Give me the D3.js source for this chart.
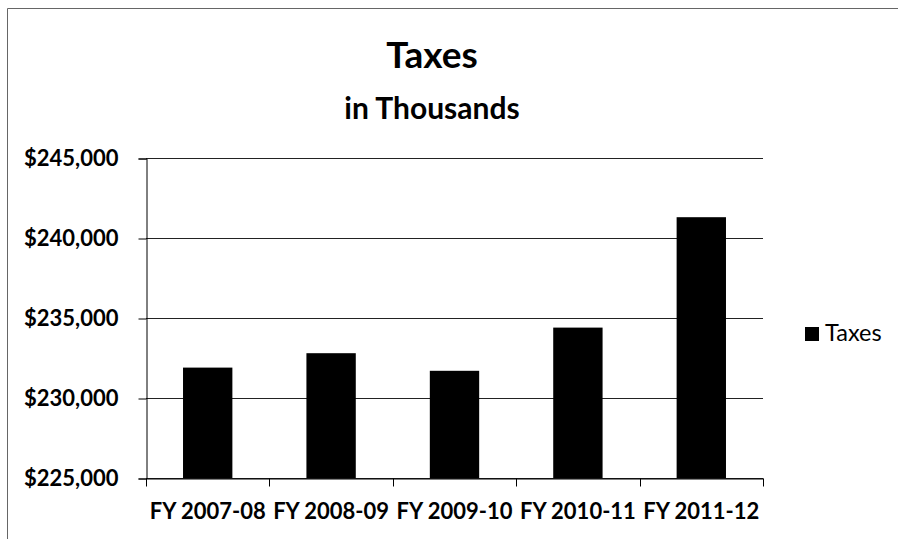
<!DOCTYPE html>
<html>
<head>
<meta charset="utf-8">
<script src="https://cdn.jsdelivr.net/npm/d3@7"></script>
<style>
  body { margin: 0; background: #fff; }
  svg { display: block; }
</style>
</head>
<body>
<div id="chart"></div>
<script>
// Data
const years = ["FY 2007-08", "FY 2008-09", "FY 2009-10", "FY 2010-11", "FY 2011-12"];
const taxes = [231900, 232800, 231700, 234400, 241300];
const yTicks = [225000, 230000, 235000, 240000, 245000];

const W = 898, H = 539;
const margin = { top: 158, right: 135, bottom: 61, left: 146 };
const font = "Lato, 'Open Sans', sans-serif";

const svg = d3.select("#chart").append("svg")
    .attr("width", W)
    .attr("height", H);

// chart frame (left + top visible)
svg.append("path")
    .attr("d", `M7.5,${H} L7.5,8.5 L${W},8.5`)
    .attr("fill", "none")
    .attr("stroke", "#666")
    .attr("stroke-width", 1);

// Scales
const x = d3.scaleBand()
    .domain(years)
    .range([margin.left, W - margin.right])
    .paddingInner(0.6)
    .paddingOuter(0.3);

const y = d3.scaleLinear()
    .domain([225000, 245000])
    .range([H - margin.bottom, margin.top]);

// Gridlines
svg.append("g")
    .selectAll("line")
    .data(yTicks)
    .enter()
    .append("line")
    .attr("x1", margin.left)
    .attr("x2", W - margin.right)
    .attr("y1", d => Math.round(y(d)) + 0.5)
    .attr("y2", d => Math.round(y(d)) + 0.5)
    .attr("stroke", "#222")
    .attr("stroke-width", 1);

// Y axis
const yAxis = svg.append("g")
    .attr("transform", `translate(${margin.left + 0.5},0.5)`)
    .call(d3.axisLeft(y).tickValues(yTicks).tickSize(8).tickPadding(20)
        .tickFormat(d => "$" + d3.format(",")(d)));
yAxis.select(".domain").attr("stroke", "#000");
yAxis.selectAll(".tick line").attr("stroke", "#000");
yAxis.selectAll("text")
    .style("font-family", font)
    .style("font-weight", "700")
    .style("font-size", "22px")
    .attr("fill", "#000");

// Bars
svg.append("g")
    .selectAll("rect")
    .data(taxes)
    .enter()
    .append("rect")
    .attr("x", (d, i) => x(years[i]))
    .attr("width", x.bandwidth())
    .attr("y", d => y(d))
    .attr("height", d => y(225000) - y(d))
    .attr("fill", "#000");

// X axis: labels centred, ticks on category boundaries
const xAxis = svg.append("g")
    .attr("transform", `translate(0,${Math.round(y(225000)) + 0.5})`)
    .call(d3.axisBottom(x).tickSize(0).tickPadding(25));
xAxis.select(".domain").attr("stroke", "#000");
xAxis.selectAll("text")
    .style("font-family", font)
    .style("font-weight", "700")
    .style("font-size", "22px")
    .attr("fill", "#000");

xAxis.selectAll(".boundary")
    .data(d3.range(years.length + 1))
    .enter()
    .append("line")
    .attr("class", "boundary")
    .attr("x1", i => Math.round(x.range()[0] + i * x.step()) + 0.5)
    .attr("x2", i => Math.round(x.range()[0] + i * x.step()) + 0.5)
    .attr("y1", 0)
    .attr("y2", 8)
    .attr("stroke", "#000");

// Title
const cx = 432;
svg.append("text")
    .attr("x", cx)
    .attr("y", 68)
    .attr("text-anchor", "middle")
    .style("font-family", font)
    .style("font-weight", "700")
    .style("font-size", "37px")
    .text("Taxes");

svg.append("text")
    .attr("x", cx)
    .attr("y", 119)
    .attr("text-anchor", "middle")
    .style("font-family", font)
    .style("font-weight", "700")
    .style("font-size", "30px")
    .text("in Thousands");

// Legend
const legend = svg.append("g").attr("transform", "translate(805,327)");
legend.append("rect")
    .attr("width", 14)
    .attr("height", 14)
    .attr("fill", "#000");
legend.append("text")
    .attr("x", 20)
    .attr("y", 14)
    .style("font-family", font)
    .style("font-size", "23.5px")
    .text("Taxes");
</script>
</body>
</html>
